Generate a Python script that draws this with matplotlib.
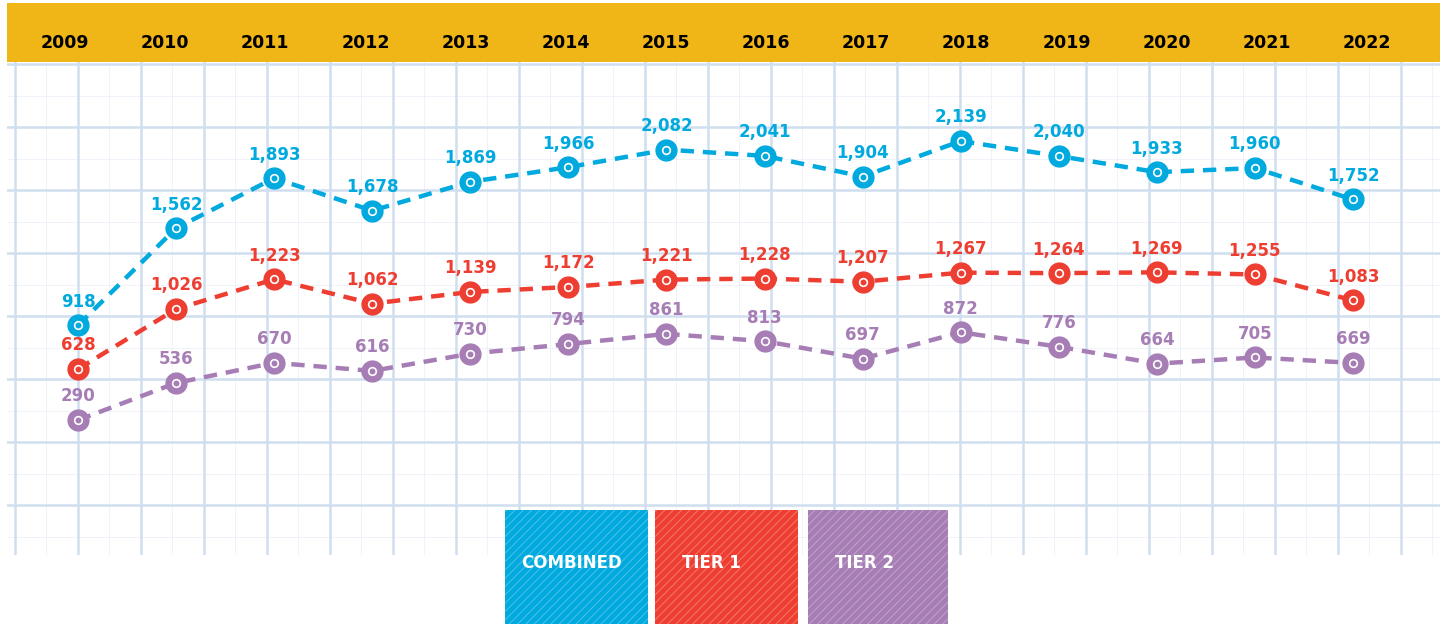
import matplotlib
matplotlib.use('Agg')
import matplotlib.pyplot as plt
from matplotlib.patches import Rectangle
import numpy as np

BLUE = '#00a9de'
RED = '#ee3e32'
PURPLE = '#a67db4'
YELLOW = '#f0b516'
PAPER = '#edf1f7'
GRID = '#d0def0'

years = list(range(2009, 2023))
combined = [918, 1562, 1893, 1678, 1869, 1966, 2082, 2041, 1904, 2139, 2040, 1933, 1960, 1752]
tier1 = [628, 1026, 1223, 1062, 1139, 1172, 1221, 1228, 1207, 1267, 1264, 1269, 1255, 1083]
tier2 = [290, 536, 670, 616, 730, 794, 861, 813, 697, 872, 776, 664, 705, 669]
series = [('COMBINED', combined, BLUE), ('TIER 1', tier1, RED), ('TIER 2', tier2, PURPLE)]

W, H = 1448, 627
fig = plt.figure(figsize=(W / 100, H / 100), dpi=100)
fig.patch.set_facecolor('white')

FONT = ['DejaVu Sans']

# graph paper background
bg = fig.add_axes([7 / W, 1 - 555 / H, 1433 / W, 493 / H])
bg.set_facecolor(PAPER)
bg.set_xlim(7, 1440)
bg.set_ylim(555, 62)
for x in np.arange(15, 1440, 63):
    bg.axvline(x, color=GRID, lw=1.8, zorder=1)
    bg.axvline(x + 31.5, color=GRID, lw=0.6, alpha=0.4, zorder=1)
for y in np.arange(64, 555, 63):
    bg.axhline(y, color=GRID, lw=1.8, zorder=1)
    bg.axhline(y + 31.5, color=GRID, lw=0.6, alpha=0.4, zorder=1)
bg.axis('off')

# main chart
ax = fig.add_axes([7 / W, 1 - 555 / H, 1433 / W, 493 / H])
ax.patch.set_alpha(0)
ax.set_xlim(2008.276, 2022.887)
ax.set_ylim(-604, 2663)
ax.axis('off')

for name, vals, col in series:
    ax.plot(years, vals, color=col, lw=3.2, ls=(0, (3, 2)), zorder=3)
    ax.plot(years, vals, 'o', color=col, ms=15, zorder=4)
    ax.plot(years, vals, 'o', mfc='none', mec='white', mew=1.2, ms=5.5, zorder=5)
    for x, v in zip(years, vals):
        ax.annotate(f'{v:,}', (x, v), xytext=(0, 17), textcoords='offset points',
                    ha='center', va='center', color=col, zorder=6,
                    family=FONT, weight='bold', fontsize=12)

# yellow header with years
hd = fig.add_axes([7 / W, 1 - 62 / H, 1433 / W, 59 / H])
hd.set_facecolor(YELLOW)
hd.set_xlim(2008.42, 2022.73)
hd.set_ylim(0, 1)
hd.set_xticks([])
hd.set_yticks([])
for s in hd.spines.values():
    s.set_visible(False)
for yr in years:
    hd.text(yr, 0.33, str(yr), ha='center', va='center', color='black',
            family=FONT, weight='bold', fontsize=12.5)

# legend swatches
ov = fig.add_axes([0, 0, 1, 1])
ov.patch.set_alpha(0)
ov.set_xlim(0, W)
ov.set_ylim(H, 0)
ov.axis('off')
plt.rcParams['hatch.linewidth'] = 0.7
boxes = [(505, 143), (655, 143), (808, 140)]
for (name, vals, col), (x0, bw) in zip(series, boxes):
    ov.add_patch(Rectangle((x0, 510), bw, 114, facecolor=col, edgecolor=(1, 1, 1, 0.3),
                           hatch='////', lw=0, zorder=2))
    tx = x0 + 16 if name == 'COMBINED' else x0 + 27
    ov.text(tx, 563, name, ha='left', va='center', color='white', zorder=3,
            family=FONT, weight='bold', fontsize=12)

fig.savefig('out.png', dpi=100)
